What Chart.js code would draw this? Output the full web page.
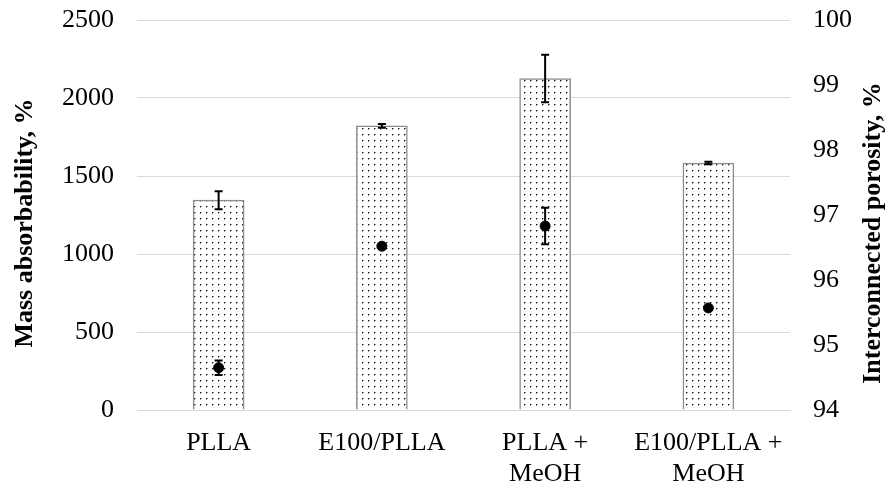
<!DOCTYPE html>
<html>
<head>
<meta charset="utf-8">
<script src="https://cdn.jsdelivr.net/npm/chart.js@4/dist/chart.umd.min.js"></script>
<style>
  html, body { margin: 0; padding: 0; background: #fff; }
  #wrap { width: 889px; height: 486px; }
</style>
</head>
<body>
<div id="wrap"><canvas id="absChart" width="889" height="486"></canvas></div>
<script>
// data
const categories = [['PLLA'], ['E100/PLLA'], ['PLLA +', 'MeOH'], ['E100/PLLA +', 'MeOH']];
const absorbability = [1345, 1822, 2125, 1583];
const absorbabilityErr = [58, 12, 152, 8];
const porosity = [94.65, 96.52, 96.83, 95.57];
const porosityErr = [0.11, 0.02, 0.28, 0.03];
const leftTicks = [0, 500, 1000, 1500, 2000, 2500];
const rightTicks = [94, 95, 96, 97, 98, 99, 100];

const serif = "'Liberation Serif', 'Times New Roman', serif";

// dotted fill like the excel pattern
function dotPattern() {
    const c = document.createElement('canvas');
    c.width = 6;
    c.height = 6;
    const g = c.getContext('2d');
    g.fillStyle = '#fff';
    g.fillRect(0, 0, 6, 6);
    g.fillStyle = '#111';
    g.fillRect(2, 2, 1, 1);
    g.fillStyle = '#999';
    g.fillRect(3, 2, 1, 1);
    g.fillRect(2, 3, 1, 1);
    const ctx = document.createElement('canvas').getContext('2d');
    return ctx.createPattern(c, 'repeat');
}

// error bars for both datasets
const errorBars = {
    id: 'errorBars',
    afterDatasetsDraw(chart) {
        const ctx = chart.ctx;
        const sets = [
            { idx: 0, vals: absorbability, errs: absorbabilityErr, scale: chart.scales.y },
            { idx: 1, vals: porosity, errs: porosityErr, scale: chart.scales.y1 }
        ];
        ctx.save();
        ctx.strokeStyle = '#000';
        ctx.lineWidth = 2;
        sets.forEach(s => {
            const meta = chart.getDatasetMeta(s.idx);
            meta.data.forEach((el, i) => {
                const x = el.x;
                const yTop = s.scale.getPixelForValue(s.vals[i] + s.errs[i]);
                const yBot = s.scale.getPixelForValue(s.vals[i] - s.errs[i]);
                ctx.beginPath();
                ctx.moveTo(x, yTop);
                ctx.lineTo(x, yBot);
                ctx.moveTo(x - 4, yTop);
                ctx.lineTo(x + 4, yTop);
                ctx.moveTo(x - 4, yBot);
                ctx.lineTo(x + 4, yBot);
                ctx.stroke();
            });
        });
        ctx.restore();
    }
};

// axis titles, both read bottom-to-top
const axisTitles = {
    id: 'axisTitles',
    afterDraw(chart) {
        const ctx = chart.ctx;
        ctx.save();
        ctx.fillStyle = '#000';
        ctx.font = "bold 26px " + serif;
        ctx.textAlign = 'center';
        ctx.textBaseline = 'middle';
        ctx.translate(25, 223);
        ctx.rotate(-Math.PI / 2);
        ctx.fillText('Mass absorbability, %', 0, 0);
        ctx.restore();

        ctx.save();
        ctx.fillStyle = '#000';
        ctx.font = "bold 26px " + serif;
        ctx.textAlign = 'center';
        ctx.textBaseline = 'middle';
        ctx.translate(873, 233);
        ctx.rotate(-Math.PI / 2);
        ctx.fillText('Interconnected porosity, %', 0, 0);
        ctx.restore();
    }
};

function fixVertical(width) {
    return function (scale) {
        scale.width = width;
        scale.paddingTop = 0;
        scale.paddingBottom = 0;
    };
}

new Chart(document.getElementById('absChart'), {
    data: {
        labels: categories,
        datasets: [
            {
                type: 'bar',
                label: 'Mass absorbability',
                data: absorbability,
                backgroundColor: dotPattern(),
                borderColor: '#8c8c8c',
                borderWidth: 1.5,
                barThickness: 51,
                yAxisID: 'y',
                order: 2
            },
            {
                type: 'line',
                label: 'Interconnected porosity',
                data: porosity,
                showLine: false,
                pointRadius: 5,
                pointHoverRadius: 5,
                pointBackgroundColor: '#000',
                pointBorderColor: '#000',
                yAxisID: 'y1',
                order: 1
            }
        ]
    },
    options: {
        responsive: false,
        animation: false,
        layout: { padding: { top: 20, left: 0, right: 0, bottom: 0 } },
        plugins: {
            legend: { display: false },
            tooltip: { enabled: false }
        },
        scales: {
            x: {
                grid: { display: false },
                border: { color: '#d9d9d9', width: 1 },
                ticks: {
                    color: '#000',
                    font: { family: serif, size: 26, lineHeight: 1.18 },
                    padding: 10,
                    maxRotation: 0,
                    autoSkip: false
                },
                afterFit(scale) { scale.height = 76; }
            },
            y: {
                position: 'left',
                min: 0,
                max: 2500,
                afterBuildTicks(scale) { scale.ticks = leftTicks.map(v => ({ value: v })); },
                grid: { color: '#d9d9d9', drawTicks: false },
                border: { display: false },
                ticks: {
                    color: '#000',
                    font: { family: serif, size: 26 },
                    padding: 23,
                    callback: v => String(v)
                },
                afterFit: fixVertical(137)
            },
            y1: {
                position: 'right',
                min: 94,
                max: 100,
                afterBuildTicks(scale) { scale.ticks = rightTicks.map(v => ({ value: v })); },
                grid: { display: false, drawTicks: false },
                border: { display: false },
                ticks: {
                    color: '#000',
                    font: { family: serif, size: 26 },
                    padding: 23,
                    callback: v => String(v)
                },
                afterFit: fixVertical(99)
            }
        }
    },
    plugins: [errorBars, axisTitles]
});
</script>
</body>
</html>
